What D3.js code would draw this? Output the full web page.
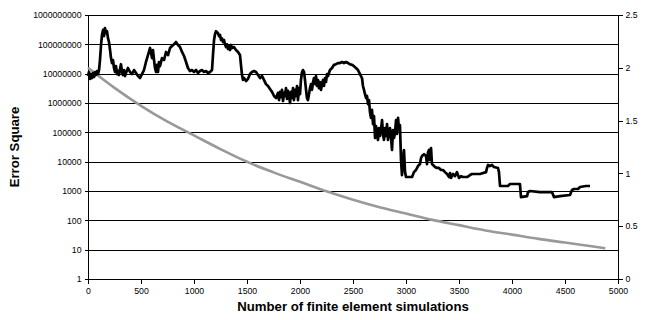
<!DOCTYPE html>
<html>
<head>
<meta charset="utf-8">
<script src="https://cdn.jsdelivr.net/npm/d3@7"></script>
<style>
  html, body { margin: 0; padding: 0; background: #fff; }
  svg { display: block; font-family: "Liberation Sans", Arial, sans-serif; }
</style>
</head>
<body>
<svg id="chart" width="648" height="320"></svg>
<script>
// Tick values for the three axes
const xTickValues = [0, 500, 1000, 1500, 2000, 2500, 3000, 3500, 4000, 4500, 5000];
const errorTickValues = [1, 10, 100, 1000, 10000, 100000, 1000000, 10000000, 100000000, 1000000000];
const rightTickValues = [0, 0.5, 1, 1.5, 2, 2.5];

// Error square (left log axis) against number of simulations
const errorTrace = [
  [0,8.3e6],[9,1.14e7],[19,6.6e6],[28,9.7e6],[38,7.1e6],[47,1.05e7],[57,7.7e6],[66,1.14e7],
  [75,9.0e6],[85,1.23e7],[94,9.7e6],[104,1.33e7],[113,2.9e7],[123,9.5e7],[132,2.1e8],[142,3.1e8],
  [151,1.9e8],[160,3.6e8],[170,2.4e8],[179,2.8e8],[189,1.6e8],[198,1.2e8],[208,6.4e7],[217,3.4e7],
  [226,2.3e7],[236,2.9e7],[245,1.56e7],[255,1.14e7],[264,1.8e7],[274,9.7e6],[283,1.23e7],[292,9.0e6],
  [302,1.44e7],[311,2.1e7],[321,1.14e7],[330,9.0e6],[340,1.33e7],[349,8.3e6],[358,1.05e7],[377,1.56e7],
  [396,1.14e7],[415,9.7e6],[434,1.33e7],[453,1.05e7],[472,8.3e6],[491,7.1e6],[509,9.7e6],[528,1.33e7],
  [547,2.5e7],[566,4.3e7],[585,7.5e7],[594,5.5e7],[604,3.4e7],[613,6.4e7],[623,2.9e7],[632,1.56e7],
  [642,1.14e7],[651,2.0e7],[660,1.14e7],[670,2.5e7],[679,1.8e7],[698,3.4e7],[717,2.9e7],[736,5.5e7],
  [755,4.3e7],[774,7.5e7],[792,8.8e7],[811,1.0e8],[830,1.2e8],[849,9.5e7],[868,8.1e7],[887,5.5e7],
  [906,4.0e7],[925,2.5e7],[943,1.56e7],[962,1.23e7],[981,1.33e7],[1000,1.14e7],[1019,1.33e7],[1038,1.05e7],
  [1057,1.23e7],[1075,1.33e7],[1094,1.14e7],[1113,1.23e7],[1132,1.05e7],[1151,1.14e7],[1170,1.33e7],[1179,4.3e7],
  [1189,1.4e8],[1198,2.2e8],[1208,2.8e8],[1217,2.6e8],[1226,2.4e8],[1236,1.9e8],[1245,2.1e8],[1255,1.4e8],
  [1264,1.6e8],[1274,1.2e8],[1283,1.4e8],[1292,1.0e8],[1302,8.1e7],[1311,1.0e8],[1321,6.9e7],[1330,8.8e7],
  [1340,6.4e7],[1349,9.5e7],[1358,7.5e7],[1377,8.1e7],[1396,6.4e7],[1415,5.5e7],[1434,4.3e7],[1443,2.0e7],
  [1453,9.0e6],[1462,6.1e6],[1472,7.1e6],[1491,5.6e6],[1509,6.6e6],[1528,9.7e6],[1547,1.14e7],[1566,1.23e7],
  [1585,1.14e7],[1604,9.0e6],[1623,7.1e6],[1642,8.3e6],[1660,6.1e6],[1679,4.4e6],[1698,3.8e6],[1717,3.0e6],
  [1736,2.4e6],[1755,1.73e6],[1774,1.48e6],[1792,2.2e6],[1802,1.26e6],[1811,2.4e6],[1821,1.6e6],[1830,2.8e6],
  [1840,1.17e6],[1849,2.2e6],[1858,1.73e6],[1868,3.2e6],[1877,1.37e6],[1887,2.6e6],[1896,1.87e6],[1906,1.0e6],
  [1915,2.4e6],[1925,1.48e6],[1934,3.2e6],[1943,1.26e6],[1953,2.8e6],[1962,1.73e6],[1972,3.8e6],[1981,1.26e6],
  [1991,3.2e6],[2000,2.0e6],[2009,6.1e6],[2019,1.14e7],[2028,1.33e7],[2038,1.14e7],[2047,6.1e6],[2057,2.8e6],
  [2066,1.48e6],[2075,1.26e6],[2085,2.0e6],[2094,3.2e6],[2104,4.4e6],[2113,2.8e6],[2123,5.2e6],[2132,7.1e6],
  [2142,4.4e6],[2151,8.3e6],[2160,3.8e6],[2170,6.1e6],[2179,3.2e6],[2189,5.2e6],[2198,2.8e6],[2208,4.4e6],
  [2217,6.1e6],[2226,3.8e6],[2236,7.1e6],[2245,5.2e6],[2255,9.7e6],[2264,8.3e6],[2283,1.33e7],[2302,1.56e7],
  [2321,2.0e7],[2340,2.1e7],[2358,2.3e7],[2377,2.3e7],[2396,2.5e7],[2415,2.3e7],[2434,2.5e7],[2453,2.3e7],
  [2472,2.1e7],[2491,2.0e7],[2509,1.8e7],[2528,1.56e7],[2547,1.33e7],[2566,9.7e6],[2585,7.1e6],[2594,3.8e6],
  [2604,2.8e6],[2613,2.0e6],[2623,1.48e6],[2632,1.73e6],[2642,9.2e5],[2651,1.26e6],[2660,4.9e5],[2670,3.1e5],
  [2679,5.8e5],[2689,1.9e5],[2698,3.6e5],[2708,6.4e4],[2717,1.64e5],[2726,1.03e5],[2736,5.5e4],[2745,1.4e5],
  [2755,7.5e4],[2764,1.2e5],[2774,2.6e5],[2783,8.8e4],[2792,5.5e4],[2802,1.4e5],[2811,7.5e4],[2821,1.9e5],
  [2830,5.5e4],[2840,1.03e5],[2849,1.4e5],[2858,7.5e4],[2868,2.5e4],[2877,1.2e5],[2887,6.4e4],[2896,9.5e4],
  [2906,2.6e5],[2915,8.8e4],[2925,3.1e5],[2934,1.2e5],[2943,1.78e5],[2953,1.14e4],[2962,3.5e3],[2972,1.33e4],
  [2981,2.5e4],[2991,4.4e3],[3000,3.0e3],[3057,3.0e3],[3075,4.4e3],[3094,5.2e3],[3113,7.1e3],[3132,8.3e3],
  [3142,1.33e4],[3151,1.56e4],[3170,1.8e4],[3189,1.56e4],[3198,8.3e3],[3208,2.1e4],[3217,2.5e4],[3226,1.14e4],
  [3236,2.9e4],[3245,8.3e3],[3255,7.7e3],[3274,6.6e3],[3292,6.1e3],[3311,6.1e3],[3330,5.2e3],[3349,5.2e3],
  [3368,4.4e3],[3387,3.8e3],[3406,3.0e3],[3415,4.1e3],[3425,2.8e3],[3443,3.8e3],[3462,3.2e3],[3481,4.4e3],
  [3500,2.8e3],[3519,3.2e3],[3538,3.0e3],[3576,3.0e3],[3604,3.5e3],[3623,3.8e3],[3698,3.8e3],[3755,4.4e3],
  [3764,6.1e3],[3774,7.7e3],[3792,7.1e3],[3811,7.7e3],[3830,6.6e3],[3868,6.1e3],[3877,4.4e3],[3887,1.48e3],
  [3962,1.48e3],[3981,1.73e3],[4075,1.73e3],[4085,6.2e2],[4142,6.7e2],[4151,9.2e2],[4170,1.0e3],[4264,9.2e2],
  [4377,9.2e2],[4396,6.2e2],[4453,6.7e2],[4547,7.3e2],[4566,1.08e3],[4585,1.17e3],[4623,1.17e3],[4642,1.37e3],
  [4698,1.48e3],[4736,1.48e3]
];

// Secondary series (right linear axis)
const decaySims = [0, 250, 500, 750, 1000, 1250, 1500, 1750, 2000, 2250, 2500, 2750, 3000, 3250, 3500, 3750, 4000, 4250, 4500, 4750, 4880];
const decayValues = [2.00, 1.81, 1.64, 1.49, 1.36, 1.23, 1.11, 1.01, 0.92, 0.83, 0.75, 0.68, 0.62, 0.56, 0.51, 0.46, 0.42, 0.38, 0.345, 0.31, 0.29];

const svg = d3.select("#chart");
const plotLeft = 88, plotRight = 618, plotTop = 15, plotBottom = 279;

const x = d3.scaleLinear().domain([0, 5000]).range([plotLeft, plotRight]);
const yLog = d3.scaleLog().domain([1, 1e9]).range([plotBottom, plotTop]);
const yRight = d3.scaleLinear().domain([0, 2.5]).range([plotBottom, plotTop]);

// Horizontal gridlines at every decade
svg.append("g")
  .selectAll("line")
  .data(errorTickValues)
  .join("line")
  .attr("x1", plotLeft).attr("x2", plotRight)
  .attr("y1", d => Math.round(yLog(d)) + 0.5)
  .attr("y2", d => Math.round(yLog(d)) + 0.5)
  .attr("stroke", "#000")
  .attr("stroke-width", 1)
  .attr("shape-rendering", "crispEdges");

const tickFont = "8.7px";

// Left log axis
const leftAxis = svg.append("g")
  .attr("transform", `translate(${plotLeft + 0.5},0)`)
  .call(d3.axisLeft(yLog).tickValues(errorTickValues).tickFormat(d3.format("d")).tickSize(4).tickPadding(3));

// Right linear axis
const rightAxis = svg.append("g")
  .attr("transform", `translate(${plotRight + 0.5},0)`)
  .call(d3.axisRight(yRight).tickValues(rightTickValues).tickFormat(d => String(d)).tickSize(4).tickPadding(3));

// Bottom axis
const bottomAxis = svg.append("g")
  .attr("transform", `translate(0,${plotBottom + 0.5})`)
  .call(d3.axisBottom(x).tickValues(xTickValues).tickFormat(d3.format("d")).tickSize(4).tickPadding(4));

[leftAxis, rightAxis, bottomAxis].forEach(g => {
  g.select(".domain").attr("stroke", "#000").attr("shape-rendering", "crispEdges");
  g.selectAll(".tick line").attr("stroke", "#000").attr("shape-rendering", "crispEdges");
  g.selectAll("text")
    .attr("font-family", "'Liberation Sans', Arial, sans-serif")
    .attr("font-size", tickFont)
    .attr("fill", "#000");
});
leftAxis.select(".domain").attr("d", `M-4,${plotBottom}H0V${plotTop}H-4`);
rightAxis.select(".domain").attr("d", `M4,${plotBottom}H0V${plotTop}H4`);
bottomAxis.select(".domain").attr("d", `M${plotLeft},4V0H${plotRight}V4`);

// Decay curve on the right axis
svg.append("path")
  .datum(decaySims.map((s, i) => [s, decayValues[i]]))
  .attr("fill", "none")
  .attr("stroke", "#999")
  .attr("stroke-width", 2.6)
  .attr("d", d3.line().x(d => x(d[0])).y(d => yRight(d[1])).curve(d3.curveMonotoneX));

// Error square trace on the log axis
svg.append("path")
  .datum(errorTrace)
  .attr("fill", "none")
  .attr("stroke", "#000")
  .attr("stroke-width", 2.7)
  .attr("stroke-linejoin", "round")
  .attr("d", d3.line().x(d => x(d[0])).y(d => yLog(d[1])));

// Axis titles
svg.append("text")
  .attr("x", (plotLeft + plotRight) / 2)
  .attr("y", 311)
  .attr("text-anchor", "middle")
  .attr("font-size", "13.2px")
  .attr("font-weight", "bold")
  .text("Number of finite element simulations");

svg.append("text")
  .attr("transform", `translate(19,${(plotTop + plotBottom) / 2}) rotate(-90)`)
  .attr("text-anchor", "middle")
  .attr("font-size", "13.2px")
  .attr("font-weight", "bold")
  .text("Error Square");
</script>
</body>
</html>
